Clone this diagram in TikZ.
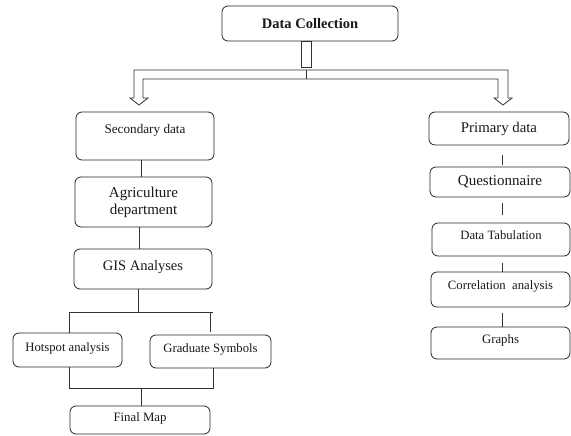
\documentclass[tikz,border=0pt]{standalone}
\usepackage{fontspec}
\setmainfont{Liberation Serif}
\usetikzlibrary{calc}
\begin{document}
\begin{tikzpicture}[x=1pt,y=-1pt,
  box/.style={draw=black!85, line width=0.8pt, rounded corners=6pt, inner sep=0pt, text=black!90, align=center},
  conn/.style={draw=black!80, line width=0.8pt},
  fs/.style={font=\fontsize{#1}{#1}\selectfont}]
\fill[white] (0,0) rectangle (571,436);
\useasboundingbox (0,0) rectangle (571,436);

% top
\node[box, minimum width=176, minimum height=35, fs=14.5] (dc) at (310,23.5) {\bfseries Data Collection};

% left column
\node[box, minimum width=138, minimum height=48, fs=13.2, text depth=15pt] (sec) at (145,136) {Secondary data};
\node[box, minimum width=137, minimum height=50, fs=15] (agr) at (143.5,202) {Agriculture\\[2pt]department};
\node[box, minimum width=138, minimum height=40, fs=14.5, text depth=7pt] (gis) at (143,269) {GIS Analyses};
\node[box, minimum width=109, minimum height=34, fs=12.7, text depth=6pt] (hot) at (67.5,350) {Hotspot analysis};
\node[box, minimum width=121, minimum height=33, fs=12.7, text depth=6pt] (grd) at (210.5,351.5) {Graduate Symbols};
\node[box, minimum width=140, minimum height=28, fs=12.8, text depth=5pt] (fin) at (140,420) {Final Map};

% right column
\node[box, minimum width=140, minimum height=33, fs=14.8] (pri) at (499,128.5) {Primary data};
\node[box, minimum width=140, minimum height=30, fs=15] (que) at (500,182) {Questionnaire};
\node[box, minimum width=138, minimum height=33, fs=12.7, text depth=8pt] (tab) at (501,239.5) {Data Tabulation};
\node[box, minimum width=139, minimum height=35, fs=12.7, text depth=8pt] (cor) at (500.5,289.5) {Correlation\hspace{0.5em}analysis};
\node[box, minimum width=139, minimum height=32, fs=12.8, text depth=7pt] (gra) at (500.5,343) {Graphs};

% fat double arrow from Data Collection
\coordinate (stemT) at ($(dc.south)+(-4,0)$);
\draw[conn] ($(stemT)+(-5,0)$) rectangle ($(stemT)+(5,26)$);
\coordinate (lt) at (139,105);
\coordinate (rt) at (503,105);
\draw[conn, line join=miter]
  ($(lt)+(-5,-35)$) -- ($(lt)+(-5,-7)$) -- ($(lt)+(-9,-7)$) -- (lt) -- ($(lt)+(9,-7)$) -- ($(lt)+(4,-7)$)
  -- ($(lt)+(4,-26)$) -- ($(rt)+(-5,-26)$) -- ($(rt)+(-5,-7)$) -- ($(rt)+(-9,-7)$) -- (rt)
  -- ($(rt)+(9,-7)$) -- ($(rt)+(5,-7)$) -- ($(rt)+(5,-35)$) -- cycle;
\draw[conn] (306,70) -- (306,79);

% left column connectors
\draw[conn] (sec.south -| 141,0) -- (agr.north -| 141,0);
\draw[conn] (agr.south -| 139,0) -- (gis.north -| 139,0);
\coordinate (f1) at (138,312);
\draw[conn] (gis.south -| f1) -- (f1);
\draw[conn] (hot.north -| 69,0) -- (69,312) -- (213,312);
\draw[conn] (210,312) -- ($(grd.north -| 210,0)+(0,-3)$);
\coordinate (f2) at (141,388);
\draw[conn] (hot.south -| 69,0) -- (69,388) -- (213,388) -- (grd.south -| 213,0);
\draw[conn] (f2) -- (fin.north -| f2);

% right column connectors
\draw[conn] ($(pri.south -| 502,0)+(0,10)$) -- ($(que.north -| 502,0)+(0,-2)$);
\draw[conn] ($(que.south -| 502,0)+(0,6)$) -- ($(tab.north -| 502,0)+(0,-8)$);
\draw[conn] ($(tab.south -| 502,0)+(0,7)$) -- (cor.north -| 502,0);
\draw[conn] ($(cor.south -| 502,0)+(0,6)$) -- (gra.north -| 502,0);
\end{tikzpicture}
\end{document}
